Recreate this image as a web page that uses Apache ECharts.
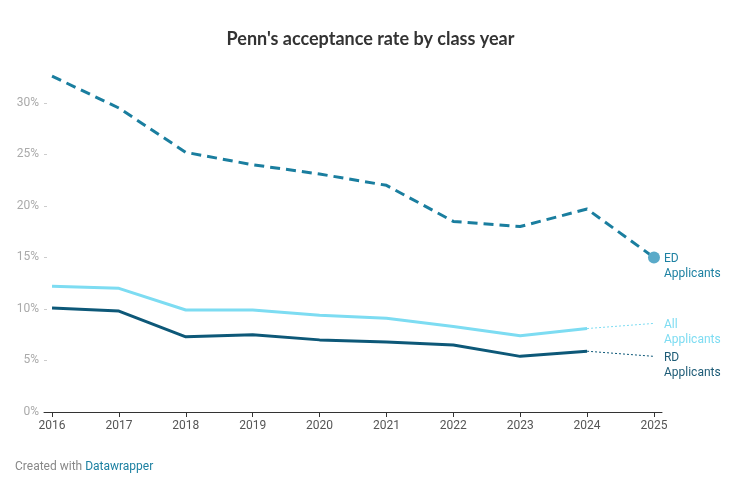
<!DOCTYPE html>
<html><head><meta charset="utf-8">
<script src="https://cdn.jsdelivr.net/npm/echarts@6/dist/echarts.min.js"></script>
<style>html,body{margin:0;padding:0;background:#fff}#c{width:741px;height:480px}</style>
</head><body><div id="c"></div>
<script>
const years = [2016,2017,2018,2019,2020,2021,2022,2023,2024,2025];
const edRate = [32.6,29.5,25.2,24.0,23.1,22.0,18.5,18.0,19.7,15.0];
const allRate = [12.2,12.0,9.9,9.9,9.4,9.1,8.3,7.4,8.1];
const rdRate = [10.1,9.8,7.3,7.5,7.0,6.8,6.5,5.4,5.9];
const allProjected = [8.1, 8.6];
const rdProjected = [5.9, 5.4];
const yTicks = [0,5,10,15,20,25,30];

const pair = (xs, ys) => ys.map((v,i)=>[xs[i], v]);
const endLbl = (text, color) => ({
  show: true, formatter: text, color: color, fontFamily: 'Roboto', fontSize: 12,
  lineHeight: 15, offset: [6, 9], distance: 4
});

const chart = echarts.init(document.getElementById('c'), null, {renderer:'canvas'});
chart.setOption({
  animation: false,
  textStyle: {fontFamily: 'Roboto'},
  title: {
    text: "Penn's acceptance rate by class year", left: 'center', top: 25,
    textStyle: {fontFamily: 'Lato', fontWeight: 'bold', fontSize: 18, color: '#333'}
  },
  graphic: [{
    type: 'text', left: 15, top: 461,
    style: {
      text: '{a|Created with }{b|Datawrapper}',
      rich: {
        a: {fontFamily: 'Roboto', fontSize: 12, fill: '#888'},
        b: {fontFamily: 'Roboto', fontSize: 12, fill: '#1d81a2'}
      }
    }
  }],
  grid: {left: 44, right: 79, top: 72, bottom: 68},
  xAxis: {
    type: 'value', min: 2015.88, max: 2025.12,
    splitLine: {show: false},
    axisLine: {show: true, lineStyle: {color: '#333', width: 1}},
    axisTick: {show: true, customValues: years, length: 5, lineStyle: {color: '#333'}},
    axisLabel: {customValues: years, color: '#555', fontSize: 12, margin: 8, formatter: v => String(v)}
  },
  yAxis: {
    type: 'value', min: 0, max: 33,
    splitLine: {show: false},
    axisLine: {show: false},
    axisTick: {show: true, inside: true, length: 3, customValues: yTicks.slice(1), lineStyle: {color: '#ccc'}},
    axisLabel: {customValues: yTicks, color: '#aaa', fontSize: 12, margin: 5, formatter: v => v + '%'}
  },
  series: [
    {
      name: 'ED Applicants', type: 'line', data: pair(years, edRate),
      lineStyle: {color: '#1a7e9f', width: 3, type: [10, 6]},
      symbol: 'circle', symbolSize: (v, p) => p.dataIndex === edRate.length - 1 ? 12 : 0,
      showSymbol: true,
      itemStyle: {color: '#5aaac9'},
      endLabel: endLbl('ED\nApplicants', '#1d81a2'),
      emphasis: {disabled: true}
    },
    {
      name: 'All Applicants', type: 'line', data: pair(years, allRate),
      lineStyle: {color: '#7ddcf2', width: 3}, symbol: 'none', emphasis: {disabled: true}
    },
    {
      name: 'RD Applicants', type: 'line', data: pair(years, rdRate),
      lineStyle: {color: '#0d5878', width: 3}, symbol: 'none', emphasis: {disabled: true}
    },
    {
      name: 'All Applicants', type: 'line', data: pair([2024, 2025], allProjected),
      lineStyle: {color: '#7ddcf2', width: 1, type: [2, 2]}, symbol: 'none',
      endLabel: endLbl('All\nApplicants', '#7ddcf2'),
      emphasis: {disabled: true}
    },
    {
      name: 'RD Applicants', type: 'line', data: pair([2024, 2025], rdProjected),
      lineStyle: {color: '#0d5878', width: 1, type: [2, 2]}, symbol: 'none',
      endLabel: endLbl('RD\nApplicants', '#1d5b76'),
      emphasis: {disabled: true}
    }
  ]
});
</script></body></html>
